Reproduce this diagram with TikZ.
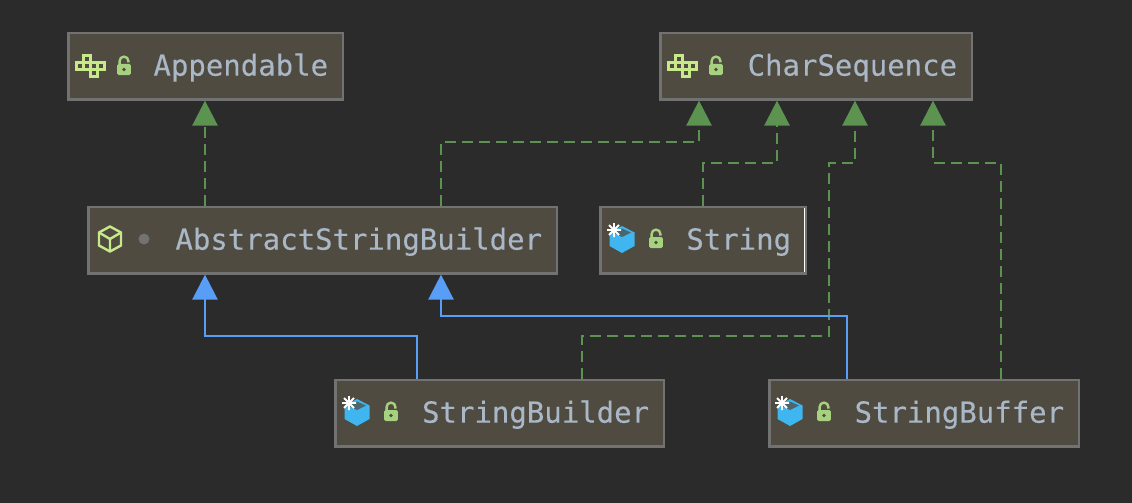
\documentclass[tikz,border=0pt]{standalone}
\usepackage{fontspec}
\setmonofont[FakeBold=0.25]{DejaVu Sans Mono}
\usetikzlibrary{arrows.meta}
\definecolor{panelbg}{HTML}{2B2B2B}
\definecolor{boxfill}{HTML}{4F4B41}
\definecolor{boxline}{HTML}{727272}
\definecolor{labeltext}{HTML}{A9B7C6}
\definecolor{implgreen}{HTML}{5C9350}
\definecolor{extblue}{HTML}{589DF6}
\definecolor{iconlime}{HTML}{C7E98A}
\definecolor{lockgreen}{HTML}{A6D17E}
\definecolor{cubeblue}{HTML}{40B6F0}
\begin{document}
\begin{tikzpicture}[x=1pt, y=-1pt, line join=miter]

% --- Styles ---
\tikzset{
    classbox/.style={
        draw=boxline,
        fill=boxfill,
        line width=2.4pt,
        minimum height=66.5pt,
        inner xsep=14.8pt,
        inner ysep=0pt,
        text width=#1,
        text height=24pt,
        text depth=5pt,
        align=right,
        text=labeltext,
        anchor=north west,
        font=\ttfamily\fontsize{29}{35}\selectfont
    },
    implements/.style={
        draw=implgreen,
        line width=2.5pt,
        dash pattern=on 11pt off 6pt,
        -{Triangle[length=25pt, width=25pt, fill=implgreen]}
    },
    extends/.style={
        draw=extblue,
        line width=2.5pt,
        -{Triangle[length=25pt, width=25pt, fill=extblue]}
    },
    lockicon/.pic={
        \draw[lockgreen, line width=2.4pt] (-4.4,-1) -- (-4.4,-5) arc[start angle=180, end angle=360, radius=4.4] -- (4.4,-3.5);
        \fill[lockgreen, rounded corners=1.5pt] (-6.8,-2) rectangle (6.8,9);
        \fill[boxfill] (0,3.5) circle[radius=1.8];
    },
    interfaceicon/.pic={
        \foreach \cx/\cy in {-3.5/-7, -10.5/0, -3.5/0, 3.5/0, 10.5/0, 3.5/7}
            \draw[iconlime, line width=3.2pt] (\cx-3.5,\cy-3.5) rectangle (\cx+3.5,\cy+3.5);
    },
    abstracticon/.pic={
        \draw[iconlime, line width=2.4pt] (0,-12.5) -- (11,-6.5) -- (11,6.5) -- (0,12.5) -- (-11,6.5) -- (-11,-6.5) -- cycle;
        \draw[iconlime, line width=2.4pt] (-11,-6.5) -- (0,0) -- (11,-6.5) (0,0) -- (0,12.5);
    },
    finalicon/.pic={
        \fill[cubeblue] (0,-13) -- (12.5,-6.5) -- (12.5,7) -- (0,14) -- (-12.5,7) -- (-12.5,-6.5) -- cycle;
        \fill[boxfill!75!cubeblue] (-9,-6.5) -- (0,-10.5) -- (9,-6.5) -- (0,-2) -- cycle;
        \draw[white, line width=1.8pt] (-15,-9) -- (-1,-9) (-8,-16) -- (-8,-2) (-13,-14) -- (-3,-4) (-13,-4) -- (-3,-14);
    }
}

\fill[panelbg] (0,0) rectangle (1132,503);

% --- Boxes ---
\node[classbox=244.7pt] (appendable) at (67.4,31.7) {Appendable};
\node[classbox=281.7pt] (charsequence) at (659.4,31.7) {CharSequence};
\node[classbox=438.7pt] (abstractbuilder) at (87.4,205.7) {AbstractStringBuilder};
\node[classbox=175.7pt] (string) at (599.4,205.7) {String};
\node[classbox=298.7pt] (stringbuilder) at (334.4,378.7) {StringBuilder};
\node[classbox=279.7pt] (stringbuffer) at (768.4,378.7) {StringBuffer};

% --- Icons ---
\pic at (90.5,66) {interfaceicon};
\pic at (124,66) {lockicon};
\pic at (682.5,66) {interfaceicon};
\pic at (716,66) {lockicon};
\pic at (110,239) {abstracticon};
\fill[boxline] (144,239) circle[radius=5.5];
\pic at (622,239) {finalicon};
\pic at (656,239) {lockicon};
\pic at (357,412) {finalicon};
\pic at (391,412) {lockicon};
\pic at (790,412) {finalicon};
\pic at (824,412) {lockicon};

% thin white edge on the String box
\draw[white, line width=1.2pt] (804.5,208) -- (804.5,272);

% --- Implements ---
\draw[implements] (abstractbuilder.north -| 205,0) -- (appendable.south -| 205,0);
\draw[implements] (abstractbuilder.north -| 441,0) -- (441,142) -- (699,142) -- (charsequence.south -| 699,0);
\draw[implements] (string.north -| 703,0) -- (703,163) -- (777,163) -- (charsequence.south -| 777,0);
\draw[implements] (stringbuilder.north -| 582,0) -- (582,336) -- (829,336) -- (829,163) -- (855,163) -- (charsequence.south -| 855,0);
\draw[implements] (stringbuffer.north -| 1001,0) -- (1001,163) -- (933,163) -- (charsequence.south -| 933,0);

% --- Extends ---
\draw[extends] (stringbuilder.north -| 417,0) -- (417,336) -- (205,336) -- (abstractbuilder.south -| 205,0);
\draw[extends] (stringbuffer.north -| 847,0) -- (847,316) -- (441,316) -- (abstractbuilder.south -| 441,0);

\end{tikzpicture}
\end{document}
